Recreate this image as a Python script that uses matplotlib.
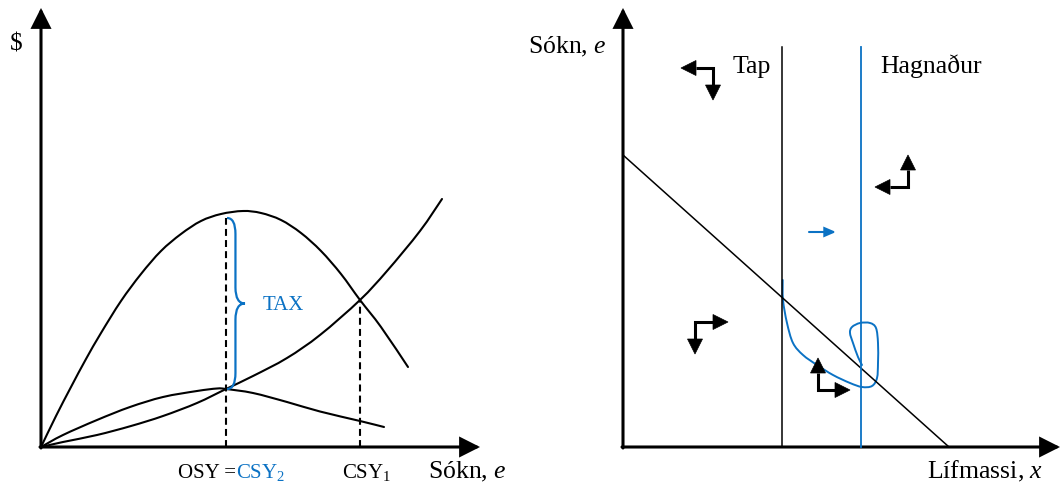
import matplotlib
matplotlib.use("Agg")
import matplotlib.pyplot as plt
import numpy as np
from matplotlib.patches import FancyArrowPatch, ArrowStyle, PathPatch, Polygon
from matplotlib.path import Path

# ---------------- data ----------------
# Left panel: effort (x) vs $ (y)
rev_x = [0, 15, 30, 45, 60, 80, 100, 120, 140, 160, 180, 202, 220, 240, 260, 280, 300, 319, 340, 367]
rev_y = [0, 31, 60, 88, 114, 146, 173, 196, 213, 226, 233, 236, 234, 227, 214, 196, 173, 147, 120, 80]

cost_x = [0, 22, 56, 90, 122, 156, 185, 212, 246, 279, 319, 346, 379, 401]
cost_y = [0, 5, 12, 21, 31, 44, 58, 71, 89, 112, 147, 176, 216, 248]

hump_x = [0, 22, 56, 89, 122, 156, 176, 185, 212, 246, 279, 319, 343]
hump_y = [0, 12, 27, 40, 50, 56, 58.5, 58, 54, 45, 35.5, 26, 20]

osy_x, osy_top = 185, 229
csy1_x, csy1_top = 319, 147
brace_x0, brace_top, brace_bottom, brace_depth = 186, 229, 58, 18

# Right panel: biomass (x) vs effort (y)
iso_x = [0, 326]
iso_y = [292, 0]
tap_x, hagn_x, vline_top = 159, 238, 400

path_x = [159.7, 160, 164, 170, 180, 194, 210, 227, 239, 249, 254, 255, 255, 253, 247, 237,
          229, 227, 230, 235, 239]
path_y = [167, 147, 124, 104, 92, 82, 72, 64, 60, 61, 69, 84, 104, 119, 124, 124,
          120, 114, 104, 90, 82]

# elbow arrows: (elbow, tip A, tip B)
elbows = [((90, 379), (58, 379), (90, 347)),
          ((285, 260), (285, 292), (252, 260)),
          ((72, 125), (105, 125), (72, 93)),
          ((195, 57), (195, 89), (227, 57))]
blue_arrow = ((186, 215), (213, 215))

BLUE = "#0B72C4"
SERIF = "Liberation Serif"
plt.rcParams["font.family"] = [SERIF, "DejaVu Serif"]
plt.rcParams["mathtext.fontset"] = "custom"
plt.rcParams["mathtext.rm"] = SERIF
plt.rcParams["mathtext.it"] = SERIF + ":italic"

fig = plt.figure(figsize=(10.6, 4.84), dpi=100)
axL = fig.add_axes([0, 0, 0.5, 1])
axR = fig.add_axes([0.5, 0, 0.5, 1])
axL.set_xlim(-41, 489); axL.set_ylim(-37, 447)
axR.set_xlim(-93, 437); axR.set_ylim(-37, 447)
for ax in (axL, axR):
    ax.axis("off")


def smooth(ax, xs, ys, **kw):
    """Draw a smooth curve through the points (Catmull-Rom rendered as Bezier path)."""
    p = np.column_stack([xs, ys]).astype(float)
    n = len(p)
    verts = [p[0]]
    codes = [Path.MOVETO]
    for i in range(n - 1):
        p0 = p[i - 1] if i > 0 else p[i]
        p1, p2 = p[i], p[i + 1]
        p3 = p[i + 2] if i + 2 < n else p[i + 1]
        c1 = p1 + (p2 - p0) / 6.0
        c2 = p2 - (p3 - p1) / 6.0
        verts += [c1, c2, p2]
        codes += [Path.CURVE4] * 3
    ax.add_patch(PathPatch(Path(verts, codes), fill=False, capstyle="round",
                           joinstyle="round", **kw))


def head(ax, tip, base, hl, hw, color):
    tip = np.asarray(tip, float); base = np.asarray(base, float)
    u = (tip - base) / np.hypot(*(tip - base))
    nrm = np.array([-u[1], u[0]])
    b = tip - u * hl
    ax.add_patch(Polygon([tip, b + nrm * hw, b - nrm * hw], closed=True,
                         facecolor=color, edgecolor=color, lw=0.5, clip_on=False))
    return b


def arrow(ax, a, b, lw=2.2, hl=11.5, hw=5.8, color="black"):
    p = FancyArrowPatch(a, b, arrowstyle=ArrowStyle("-|>", head_length=hl, head_width=hw),
                        mutation_scale=1, shrinkA=0, shrinkB=0, lw=lw, color=color,
                        joinstyle="miter", clip_on=False)
    ax.add_patch(p)


def elbow_arrow(ax, elbow, ta, tb, lw=2.2, hl=15, hw=7.5, color="black"):
    ba = head(ax, ta, elbow, hl, hw, color)
    bb = head(ax, tb, elbow, hl, hw, color)
    ax.plot([ba[0], elbow[0], bb[0]], [ba[1], elbow[1], bb[1]], color=color, lw=lw,
            solid_joinstyle="miter", solid_capstyle="butt")


# ---------------- left panel ----------------
arrow(axL, (0, -1), (0, 439))
arrow(axL, (-1, 0), (439, 0))
smooth(axL, rev_x, rev_y, edgecolor="black", lw=1.5)
smooth(axL, cost_x, cost_y, edgecolor="black", lw=1.5)
smooth(axL, hump_x, hump_y, edgecolor="black", lw=1.5)
dash = (0, (5 / 1.5, 3 / 1.5))
axL.plot([osy_x, osy_x], [0, osy_top], color="black", lw=1.5, linestyle=dash)
axL.plot([csy1_x, csy1_x], [0, csy1_top], color="black", lw=1.5, linestyle=dash)

x0, d = brace_x0, brace_depth
xm, xt = x0 + 0.47 * d, x0 + d
mid = (brace_top + brace_bottom) / 2
r = 16
verts = [(x0, brace_top), (xm, brace_top), (xm, brace_top - r), (xm, mid + r),
         (xm, mid), (xt, mid), (xm, mid), (xm, mid - r), (xm, brace_bottom + r),
         (xm, brace_bottom), (x0, brace_bottom)]
codes = [Path.MOVETO, Path.CURVE3, Path.CURVE3, Path.LINETO,
         Path.CURVE3, Path.CURVE3, Path.CURVE3, Path.CURVE3, Path.LINETO,
         Path.CURVE3, Path.CURVE3]
axL.add_patch(PathPatch(Path(verts, codes), fill=False, edgecolor=BLUE, lw=1.6))

axL.text(-25, 402, "$", fontsize=18, ha="center", va="center")
axL.text(222, 142, "TAX", fontsize=15, color=BLUE, ha="left", va="center")
axL.text(137, -31, "OSY =", fontsize=15, ha="left", va="baseline")
axL.text(195, -31, r"CSY$_2$", fontsize=15, color=BLUE, ha="left", va="baseline")
axL.text(301, -31, r"CSY$_1$", fontsize=15, ha="left", va="baseline")
axL.text(387, -31, r"Sókn, $\mathit{e}$", fontsize=18.5, ha="left", va="baseline")

# ---------------- right panel ----------------
arrow(axR, (0, -1), (0, 439))
arrow(axR, (-1, 0), (437, 0))
axR.plot(iso_x, iso_y, color="black", lw=1.1)
axR.plot([tap_x, tap_x], [0, vline_top], color="black", lw=1.1)
axR.plot([hagn_x, hagn_x], [0, vline_top], color=BLUE, lw=1.3)
smooth(axR, path_x, path_y, edgecolor=BLUE, lw=1.4)

for elbow, ta, tb in elbows:
    elbow_arrow(axR, elbow, ta, tb)
arrow(axR, blue_arrow[0], blue_arrow[1], lw=1.5, hl=6.5, hw=2.8, color=BLUE)

axR.text(-95, 394, r"Sókn, $\mathit{e}$", fontsize=18.5, ha="left", va="baseline")
axR.text(110, 374, "Tap", fontsize=18.5, ha="left", va="baseline")
axR.text(257, 374, "Hagnaður", fontsize=18.5, ha="left", va="baseline")
axR.text(304, -31, r"Lífmassi, $\mathit{x}$", fontsize=18.5, ha="left", va="baseline")

fig.savefig("out.png", dpi=100)
